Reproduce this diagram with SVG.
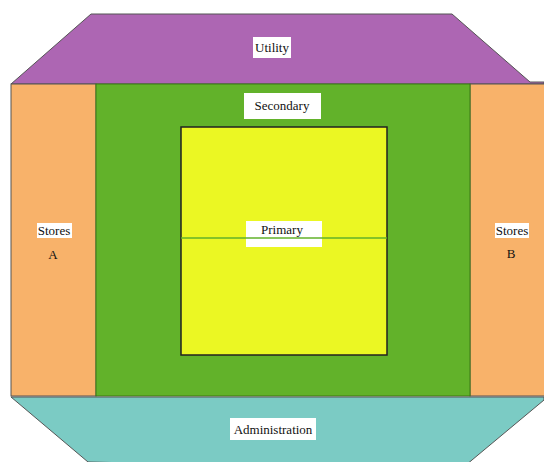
<svg xmlns="http://www.w3.org/2000/svg" width="544" height="462" viewBox="0 0 544 462">
<style>
.lbl{font-family:"Liberation Serif","Times New Roman",serif;font-size:13px;fill:#111;text-anchor:middle}
.box{fill:#fff}
.edge{stroke:#555;stroke-width:1}
</style>
<rect width="544" height="462" fill="#fff"/>
<g id="utility">
<polygon points="91,14 452,14 530,82 544,82 544,84 11,84" fill="#AD66B3" class="edge"/>
<rect class="box" x="253" y="37" width="38" height="21"/>
<text class="lbl" x="272" y="52">Utility</text>
</g>
<g id="storesA">
<rect x="11" y="84" width="85" height="312" fill="#F8B26A" class="edge"/>
<rect class="box" x="37" y="223" width="35" height="15"/>
<text class="lbl" x="54" y="235" font-size="11">Stores</text>
<text class="lbl" x="53" y="259" font-size="10">A</text>
</g>
<g id="storesB">
<rect x="470" y="84" width="80" height="312" fill="#F8B26A" class="edge"/>
<rect class="box" x="495" y="223" width="34" height="15"/>
<text class="lbl" x="512" y="235" font-size="11">Stores</text>
<text class="lbl" x="511" y="258" font-size="10">B</text>
</g>
<g id="secondary">
<rect x="96" y="84" width="374" height="312" fill="#62B22A" stroke="#3a7a15" stroke-width="1"/>
<rect class="box" x="244" y="93" width="77" height="26"/>
<text class="lbl" x="282" y="110">Secondary</text>
</g>
<g id="primary">
<rect x="181" y="127" width="206" height="228" fill="#EBF723" stroke="#222" stroke-width="1.5"/>
<rect class="box" x="246" y="221" width="76" height="26"/>
<text class="lbl" x="282" y="234">Primary</text>
</g>
<g id="connectors">
<line x1="181" y1="238" x2="387" y2="238" stroke="#62B22A" stroke-width="1.5"/>
</g>
<g id="administration">
<polygon points="11,397 544,397 544,400 460,470 88,462" fill="#7BCBC4" class="edge"/>
<rect class="box" x="230" y="418" width="86" height="22"/>
<text class="lbl" x="273" y="434">Administration</text>
</g>
</svg>
